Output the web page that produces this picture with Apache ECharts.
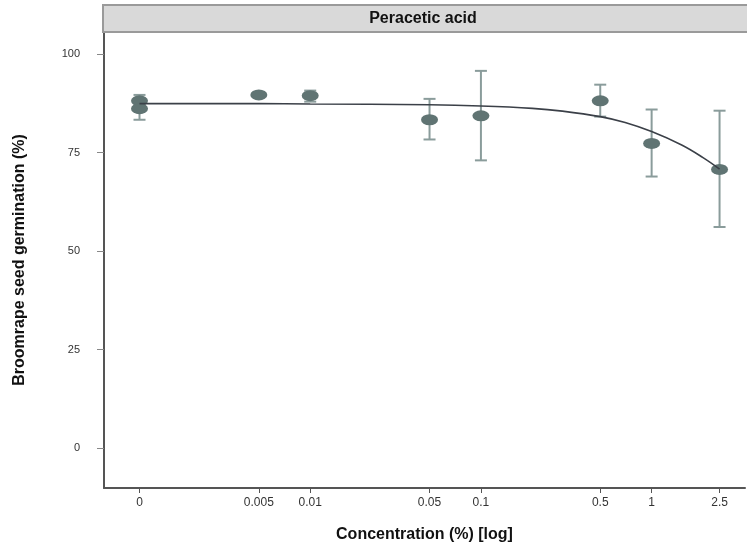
<!DOCTYPE html>
<html>
<head>
<meta charset="utf-8">
<script src="https://cdn.jsdelivr.net/npm/echarts@6/dist/echarts.min.js"></script>
<style>
  html, body { margin: 0; padding: 0; background: #fff; }
  #chart { width: 747px; height: 548px; }
</style>
</head>
<body>
<div id="chart"></div>
<script>
// Dose 0 (control) is placed at this position on the log axis.
const zeroDose = 0.001;

// Observed germination (%) per dose
const pointDose = [0, 0, 0.005, 0.01, 0.05, 0.1, 0.5, 1, 2.5];
const pointGerm = [88.1, 86.1, 89.6, 89.4, 83.3, 84.3, 88.1, 77.3, 70.7];

// Error bars per dose
const barDose = [0, 0.005, 0.01, 0.05, 0.1, 0.5, 1, 2.5];
const barLow  = [83.3, 89.3, 87.9, 78.3, 73.0, 84.1, 68.9, 56.1];
const barHigh = [89.6, 90.0, 90.7, 88.6, 95.7, 92.2, 85.9, 85.6];

// Fitted dose-response curve
const curveDose = [0, 0.005, 0.01, 0.05, 0.1, 0.2, 0.3, 0.5, 0.7, 1, 1.5, 2, 2.5];
const curveGerm = [87.4, 87.4, 87.3, 87.1, 86.8, 86.2, 85.5, 84.1, 82.6, 80.3, 76.9, 73.7, 70.8];

// Axis ticks
const xTickValues = [0, 0.005, 0.01, 0.05, 0.1, 0.5, 1, 2.5];
const xTickLabels = ['0', '0.005', '0.01', '0.05', '0.1', '0.5', '1', '2.5'];
const yTickValues = [0, 25, 50, 75, 100];

const panelTitle = 'Peracetic acid';
const xTitle = 'Concentration (%) [log]';
const yTitle = 'Broomrape seed germination (%)';

const pos = d => (d === 0 ? zeroDose : d);

const gridLeft = 104, gridTop = 32, gridRight = 2, gridBottom = 58;
const font = 'Liberation Sans, Arial, sans-serif';

const chart = echarts.init(document.getElementById('chart'));

const xLabelMap = {};
xTickValues.forEach((v, i) => { xLabelMap[pos(v)] = xTickLabels[i]; });

chart.setOption({
  animation: false,
  backgroundColor: '#ffffff',
  grid: { left: gridLeft, top: gridTop, right: gridRight, bottom: gridBottom, containLabel: false },
  graphic: [
    {
      // facet strip, running on past the right edge
      type: 'rect',
      shape: { x: 103, y: 5, width: 660, height: 27 },
      style: { fill: '#d9d9d9', stroke: '#9a9a9a', lineWidth: 2 },
      z: 10
    },
    {
      type: 'text',
      x: 423,
      y: 18.5,
      style: {
        text: panelTitle,
        fill: '#111',
        font: 'bold 16px ' + font,
        align: 'center',
        verticalAlign: 'middle'
      },
      z: 11
    }
  ],
  xAxis: {
    type: 'log',
    logBase: 10,
    min: Math.pow(10, -3.208),
    max: Math.pow(10, 0.547),
    name: xTitle,
    nameLocation: 'middle',
    nameGap: 39,
    nameTextStyle: { fontFamily: font, fontWeight: 'bold', fontSize: 16, color: '#111' },
    axisLine: { show: true, onZero: false, lineStyle: { color: '#555', width: 2 } },
    axisTick: { show: true, length: 5, lineStyle: { color: '#555' }, customValues: xTickValues.map(pos) },
    axisLabel: {
      customValues: xTickValues.map(pos),
      margin: 9,
      fontFamily: font,
      fontSize: 12,
      color: '#333',
      formatter: v => {
        for (const k in xLabelMap) {
          if (Math.abs(Math.log10(+k) - Math.log10(v)) < 1e-6) return xLabelMap[k];
        }
        return '';
      }
    },
    splitLine: { show: false },
    minorTick: { show: false }
  },
  yAxis: {
    type: 'value',
    min: -10.1,
    max: 105.56,
    name: yTitle,
    nameLocation: 'middle',
    nameGap: 76,
    nameTextStyle: { fontFamily: font, fontWeight: 'bold', fontSize: 16, color: '#111' },
    axisLine: { show: true, onZero: false, lineStyle: { color: '#555', width: 2 } },
    axisTick: { show: true, length: 7, lineStyle: { color: '#888' }, customValues: yTickValues },
    axisLabel: { customValues: yTickValues, margin: 24, fontFamily: font, fontSize: 11, color: '#333' },
    splitLine: { show: false }
  },
  series: [
    {
      type: 'custom',
      name: 'error bars',
      data: barDose.map((d, i) => [pos(d), barLow[i], barHigh[i]]),
      renderItem: (params, api) => {
        const x = api.value(0);
        const lo = api.coord([x, api.value(1)]);
        const hi = api.coord([x, api.value(2)]);
        const hw = 6;
        const style = { stroke: '#8a9c9b', lineWidth: 2, fill: 'none' };
        return {
          type: 'group',
          children: [
            { type: 'line', shape: { x1: lo[0], y1: lo[1], x2: hi[0], y2: hi[1] }, style },
            { type: 'line', shape: { x1: lo[0] - hw, y1: lo[1], x2: lo[0] + hw, y2: lo[1] }, style },
            { type: 'line', shape: { x1: hi[0] - hw, y1: hi[1], x2: hi[0] + hw, y2: hi[1] }, style }
          ]
        };
      },
      z: 2
    },
    {
      type: 'scatter',
      name: 'observed',
      data: pointDose.map((d, i) => [pos(d), pointGerm[i]]),
      symbol: 'circle',
      symbolSize: [17, 11],
      itemStyle: { color: '#607473', opacity: 1 },
      z: 3
    },
    {
      type: 'line',
      name: 'fit',
      data: curveDose.map((d, i) => [pos(d), curveGerm[i]]),
      smooth: 0.4,
      showSymbol: false,
      lineStyle: { color: '#3b4048', width: 1.6 },
      z: 4
    }
  ]
});
</script>
</body>
</html>
